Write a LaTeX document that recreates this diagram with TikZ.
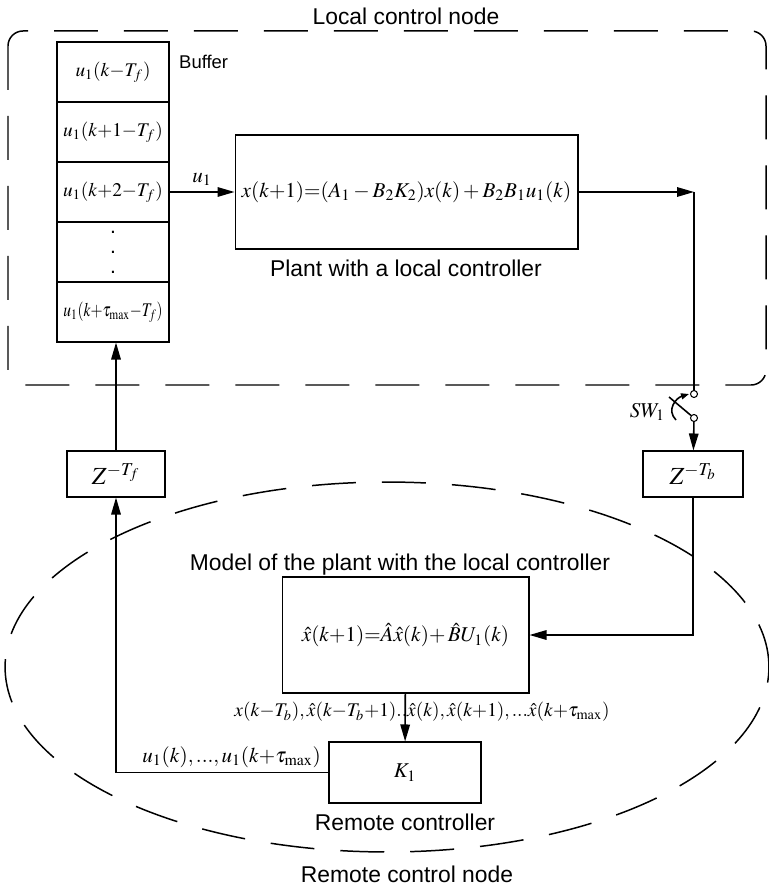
\documentclass[tikz,border=0pt]{standalone}
\usepackage{mathptmx}
\usepackage[no-math]{fontspec}
\setmainfont{Liberation Sans}
\usepackage{tikz}
\usetikzlibrary{positioning, arrows.meta, calc}

\begin{document}
\begin{tikzpicture}[x=0.02cm, y=-0.02cm,
    box/.style={draw, rectangle, line width=0.6pt, inner sep=0pt},
    cell/.style={box, minimum width=2.24cm, minimum height=1.2cm, font=\fontsize{11}{13}\selectfont},
    link/.style={line width=0.9pt},
    arr/.style={link, -{Triangle[length=3.4mm, width=1.9mm]}},
    region/.style={line width=0.85pt, dash pattern=on 0.88cm off 0.52cm},
    lbl/.style={font=\fontsize{13}{15}\selectfont},
    eq/.style={font=\fontsize{12}{14}\selectfont}]
      \useasboundingbox (0,0) rectangle (768,888);

      % local control node
      \draw[region, rounded corners=0.3cm] (8,31) rectangle (766,385);
      \node[lbl] (loc) at (406,16) {Local control node};

      \node[cell] (b1) at (113,72) {$u_1(k{-}T_f)$};
      \node[cell] (b2) at (113,132) {$u_1(k{+}1{-}T_f)$};
      \node[cell] (b3) at (113,192) {$u_1(k{+}2{-}T_f)$};
      \node[cell, align=center, font=\fontsize{12}{11.4}\selectfont] (b4) at (113,252) {.\\.\\.};
      \node[cell] (b5) at (113,312) {\scalebox{0.8}[1]{$u_1(k{+}\tau_{\max}{-}T_f)$}};
      \node[anchor=west, font=\fontsize{10.5}{12}\selectfont] (buf) at (173,62) {Buffer};

      \node[box, eq, minimum width=6.86cm, minimum height=2.28cm] (plant) at (406.5,192) {$x(k{+}1){=}(A_1 - B_2K_2)x(k) + B_2B_1u_1(k)$};
      \node[lbl] (plantlbl) at (406,268) {Plant with a local controller};

      \coordinate (ptr) at (694,192);
      \node[circle, draw, line width=0.6pt, inner sep=0pt, minimum size=0.14cm] (swa) at (694,394) {};
      \node[circle, draw, line width=0.6pt, inner sep=0pt, minimum size=0.14cm] (swb) at (694,418) {};
      \coordinate (swl) at (669,397);
      \node[eq, anchor=east] (swlbl) at (671,412) {$SW_1$};

      \node[box, font=\fontsize{14}{16}\selectfont, minimum width=1.96cm, minimum height=0.92cm] (zf) at (116,474) {$Z^{-T_f}$};
      \node[box, font=\fontsize{14}{16}\selectfont, minimum width=2cm, minimum height=0.92cm] (zb) at (693,474) {$Z^{-T_b}$};

      % remote control node
      \draw[region] (387,667) ellipse [x radius=7.64cm, y radius=3.7cm];
      \node[lbl] (modlbl) at (400,565) {Model of the plant with the local controller};
      \node[box, eq, minimum width=4.94cm, minimum height=2.32cm] (model) at (405.5,635) {$\hat{x}(k{+}1){=}\hat{A}\hat{x}(k){+}\,\hat{B}U_1(k)$};
      \node[box, eq, minimum width=3.04cm, minimum height=1.22cm] (k1) at (405,772.5) {$K_1$};
      \node[lbl] (remlbl) at (405,822) {Remote controller};
      \node[lbl] (rem) at (407,874) {Remote control node};

      \draw[arr] (b3) -- node[above, eq] {$u_1$} (plant);
      \draw[arr] (plant) -- (ptr);
      \draw[link] (ptr) -- (swa);
      \draw[link] (swl) -- (swb);
      \draw[link, -{Triangle[length=1.6mm, width=1.2mm]}] (676,420) .. controls (666,410) and (676,398) .. (689,394);
      \draw[arr] (swb) -- (zb);
      \draw[arr] (zb) |- (model);
      \draw[arr] (model) -- (k1);
      \node[font=\fontsize{11}{13}\selectfont] (xlist) at (422,712) {$x(k{-}T_b),\hat{x}(k{-}T_b{+}1)..\hat{x}(k),\hat{x}(k{+}1),...\hat{x}(k{+}\tau_{\max})$};
      \draw[arr] (k1.west) -| (zf);
      \node[eq, anchor=east] (ulist) at (327,757) {$u_1(k),...,u_1(k{+}\tau_{\max})$};
      \draw[arr] (zf.north) -- (zf.north |- b5.south);
    \end{tikzpicture}
\end{document}
